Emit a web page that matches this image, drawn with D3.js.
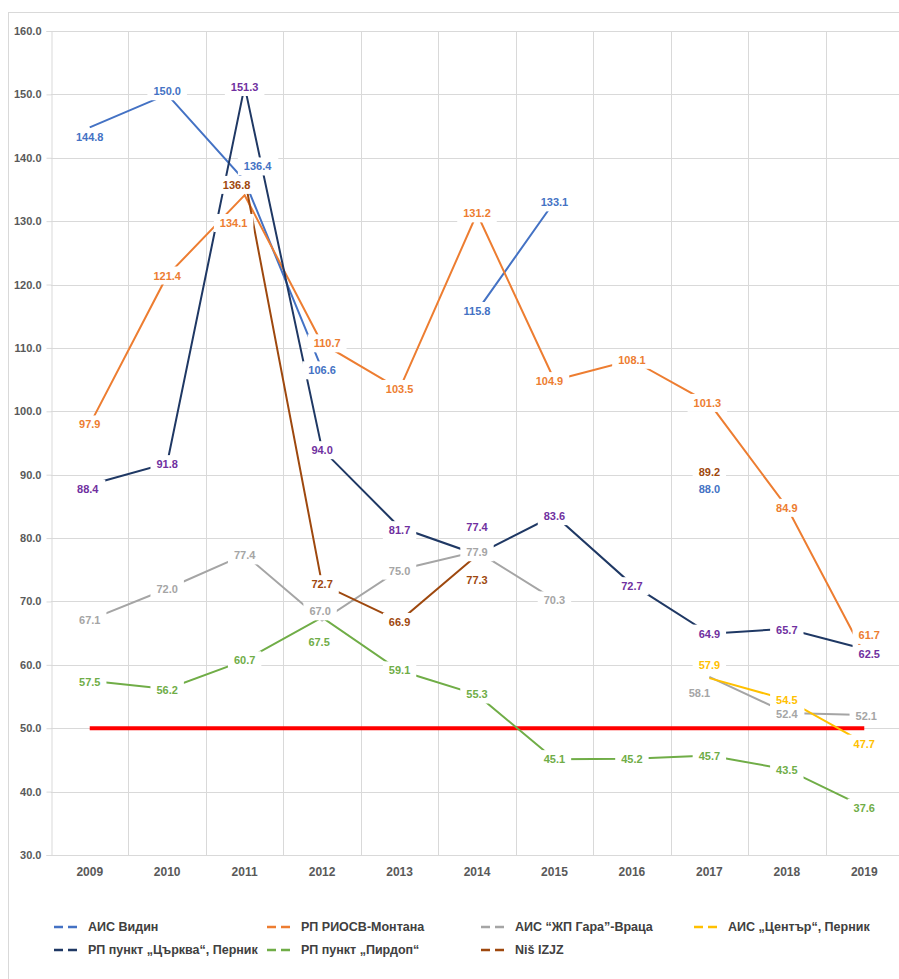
<!DOCTYPE html>
<html>
<head>
<meta charset="utf-8">
<script src="https://cdn.jsdelivr.net/npm/d3@7"></script>
<style>
  body { margin: 0; background: #fff; }
  .ylab { font-family: "Liberation Sans", Arial, sans-serif; font-size: 11px; font-weight: bold; fill: #595959; }
  .xlab { font-family: "Liberation Sans", Arial, sans-serif; font-size: 12px; font-weight: bold; fill: #595959; }
  .leg { font-family: "Liberation Sans", Arial, sans-serif; font-size: 12.5px; font-weight: bold; fill: #404040; }
  .dlab { font-family: "Liberation Sans", Arial, sans-serif; font-size: 11px; font-weight: bold; }
</style>
</head>
<body>
<script>

var years = [2009, 2010, 2011, 2012, 2013, 2014, 2015, 2016, 2017, 2018, 2019];
var yTicks = [30, 40, 50, 60, 70, 80, 90, 100, 110, 120, 130, 140, 150, 160];

var vidin    = [144.8, 150.0, 136.4, 106.6, null, 115.8, 133.1, null, 88.0, null, null];
var montana  = [97.9, 121.4, 134.1, 110.7, 103.5, 131.2, 104.9, 108.1, 101.3, 84.9, 61.7];
var vratsa   = [67.1, 72.0, 77.4, 67.0, 75.0, 77.9, 70.3, null, 58.1, 52.4, 52.1];
var pernikC  = [null, null, null, null, null, null, null, null, 57.9, 54.5, 47.7];
var tsarkva  = [88.4, 91.8, 151.3, 94.0, 81.7, 77.4, 83.6, 72.7, 64.9, 65.7, 62.5];
var pirdop   = [57.5, 56.2, 60.7, 67.5, 59.1, 55.3, 45.1, 45.2, 45.7, 43.5, 37.6];
var nis      = [null, null, 136.8, 72.7, 66.9, 77.3, null, null, 89.2, null, null];
var limit    = [50, 50, 50, 50, 50, 50, 50, 50, 50, 50, 50];

// label nudges (px) so the labels sit where the original put them
var offVidin   = [[0,10],[0,-3],[13,-14],[0,1],[0,0],[0,0],[0,1],[0,0],[0,2],[0,0],[0,0]];
var offMontana = [[0,0],[0,0],[-11,28],[5,0],[0,0],[0,0],[-5,1],[0,0],[-2,0],[0,1],[5,-19]];
var offVratsa  = [[0,0],[0,0],[0,1],[-2,-9],[0,1],[0,1],[0,1],[0,0],[-10,16],[0,1],[2,1]];
var offPernikC = [[0,0],[0,0],[0,0],[0,0],[0,0],[0,0],[0,0],[0,0],[0,-13],[0,0],[0,1]];
var offTsarkva = [[-2,4],[0,1],[0,1],[0,1],[0,3],[0,-27],[0,1],[0,2],[0,0],[0,1],[5,5]];
var offPirdop  = [[0,1],[0,1],[0,0],[-3,25],[0,0],[0,0],[0,0],[0,0],[0,1],[0,1],[0,1]];
var offNis     = [[0,0],[0,0],[-8,7],[0,0],[0,1],[0,25],[0,0],[0,0],[0,-8],[0,0],[0,0]];

var series = [
  {name: "АИС Видин", values: vidin, color: "#4472C4", label: "#4472C4", off: offVidin, legend: [54, 927]},
  {name: "РП РИОСВ-Монтана", values: montana, color: "#ED7D31", label: "#ED7D31", off: offMontana, legend: [267, 927]},
  {name: "АИС “ЖП Гара”-Враца", values: vratsa, color: "#A5A5A5", label: "#A5A5A5", off: offVratsa, legend: [481, 927]},
  {name: "АИС „Център“, Перник", values: pernikC, color: "#FFC000", label: "#FFC000", off: offPernikC, legend: [694, 927]},
  {name: "РП пункт „Църква“, Перник", values: tsarkva, color: "#1F3864", label: "#7030A0", off: offTsarkva, legend: [54, 950]},
  {name: "РП пункт „Пирдоп“", values: pirdop, color: "#70AD47", label: "#70AD47", off: offPirdop, legend: [267, 950]},
  {name: "Niš IZJZ", values: nis, color: "#9E480E", label: "#9E480E", off: offNis, legend: [481, 950]}
];

var width = 899,
    height = 979;

var svg = d3.select("body").append("svg")
    .attr("width", width)
    .attr("height", height);

// chart area border
svg.append("rect")
    .attr("x", 8.5).attr("y", 12.5)
    .attr("width", 960).attr("height", 1000)
    .attr("fill", "#fff")
    .attr("stroke", "#d9d9d9");

var x = d3.scaleBand()
    .domain(years)
    .range([51, 903]);

var y = d3.scaleLinear()
    .domain([30, 160])
    .range([855, 31]);

function cx(i) { return x(years[i]) + x.bandwidth() / 2; }

// gridlines
svg.append("g").selectAll("line.h")
    .data(yTicks)
    .enter().append("line")
    .attr("x1", 51).attr("x2", 903)
    .attr("y1", function(d) { return Math.round(y(d)) + 0.5; })
    .attr("y2", function(d) { return Math.round(y(d)) + 0.5; })
    .attr("stroke", "#d9d9d9");

svg.append("g").selectAll("line.v")
    .data(years.slice(1).concat(["end"]))
    .enter().append("line")
    .attr("x1", function(d, i) { return Math.round(51 + x.step() * (i + 1)) + 0.5; })
    .attr("x2", function(d, i) { return Math.round(51 + x.step() * (i + 1)) + 0.5; })
    .attr("y1", 31).attr("y2", 855)
    .attr("stroke", "#d9d9d9");

// y axis
var yAxis = svg.append("g")
    .attr("transform", "translate(51.5,0)")
    .call(d3.axisLeft(y).tickValues(yTicks).tickSize(5).tickPadding(5).tickFormat(d3.format(".1f")));
yAxis.select(".domain").attr("stroke", "#d9d9d9");
yAxis.selectAll(".tick line").attr("stroke", "#d9d9d9");
yAxis.selectAll(".tick text").attr("class", "ylab").attr("fill", null);
yAxis.attr("font-family", null).attr("font-size", null);

// x axis labels
var xAxis = svg.append("g")
    .attr("transform", "translate(0,855)")
    .call(d3.axisBottom(x).tickSize(0).tickPadding(12));
xAxis.select(".domain").remove();
xAxis.selectAll(".tick text")
    .attr("class", "xlab")
    .attr("fill", null);
xAxis.attr("font-family", null).attr("font-size", null);

var line = d3.line()
    .defined(function(d) { return d != null; })
    .x(function(d, i) { return cx(i); })
    .y(function(d) { return y(d); });

// threshold line
svg.append("path")
    .datum(limit)
    .attr("d", line)
    .attr("fill", "none")
    .attr("stroke", "#FF0000")
    .attr("stroke-width", 4);

svg.append("g").selectAll("path")
    .data(series)
    .enter().append("path")
    .attr("d", function(s) { return line(s.values); })
    .attr("fill", "none")
    .attr("stroke", function(s) { return s.color; })
    .attr("stroke-width", 2);

// data labels with white boxes (they hide the lines underneath)
var labels = svg.append("g");
series.forEach(function(s) {
    s.values.forEach(function(v, i) {
        if (v == null) return;
        var g = labels.append("g")
            .attr("transform", "translate(" + (cx(i) + s.off[i][0]) + "," + (y(v) + s.off[i][1]) + ")");
        var rect = g.append("rect").attr("fill", "#fff");
        var t = g.append("text")
            .attr("class", "dlab")
            .attr("text-anchor", "middle")
            .attr("dy", "0.35em")
            .attr("fill", s.label)
            .text(v.toFixed(1));
        var b = t.node().getBBox();
        rect.attr("x", b.x - 6).attr("y", b.y - 3)
            .attr("width", b.width + 12).attr("height", b.height + 6);
    });
});

// legend
var leg = svg.append("g").selectAll("g")
    .data(series)
    .enter().append("g")
    .attr("transform", function(s) { return "translate(" + s.legend[0] + "," + s.legend[1] + ")"; });

leg.append("line")
    .attr("x1", 0).attr("x2", 23)
    .attr("stroke", function(s) { return s.color; })
    .attr("stroke-width", 2.5)
    .attr("stroke-dasharray", "9,5");

leg.append("text")
    .attr("class", "leg")
    .attr("x", 34)
    .attr("dy", "0.35em")
    .text(function(s) { return s.name; });

</script>
</body>
</html>
